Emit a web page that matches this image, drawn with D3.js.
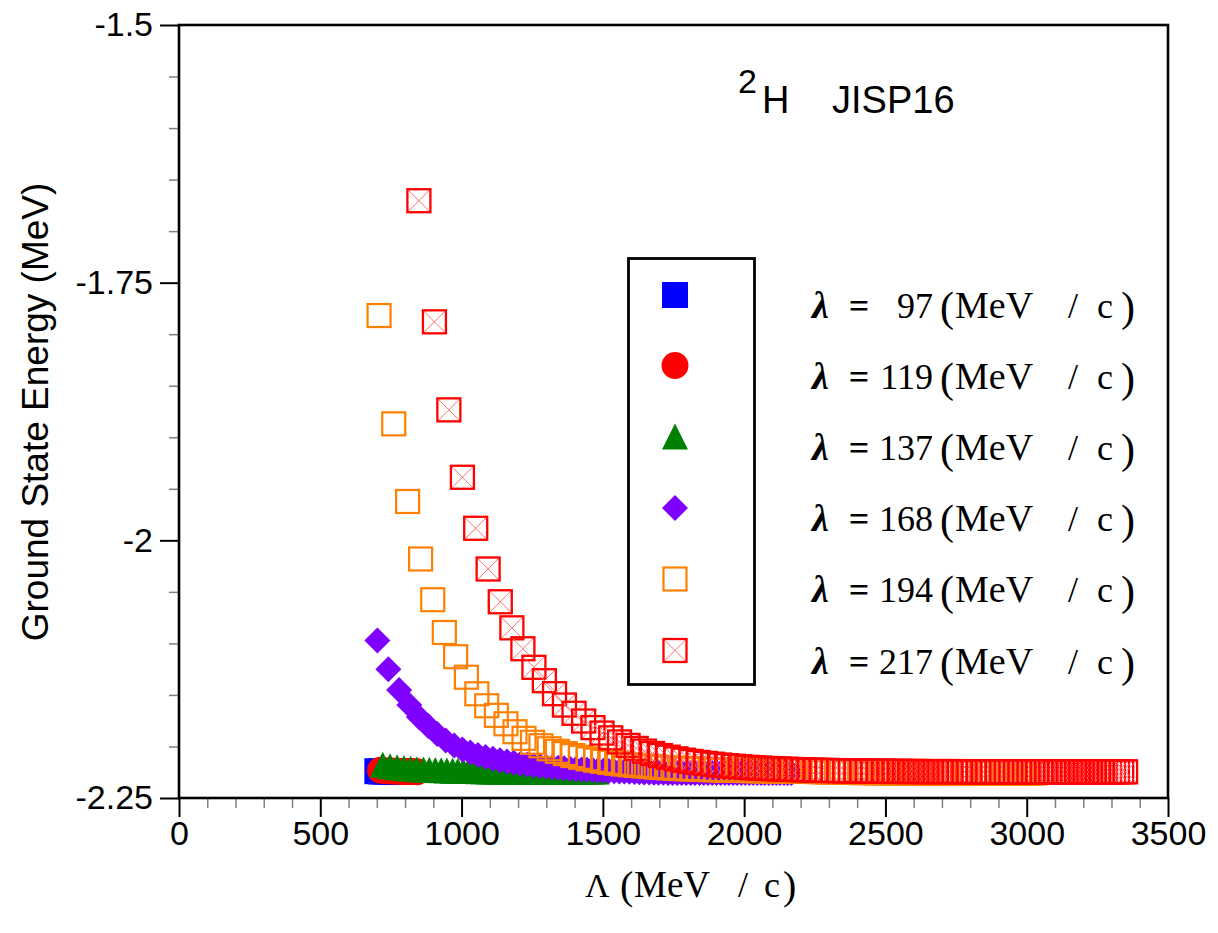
<!DOCTYPE html>
<html><head><meta charset="utf-8">
<script src="https://cdn.jsdelivr.net/npm/d3@7"></script>
<style>body{margin:0;background:#fff}svg{display:block}</style>
</head><body>
<svg id="c" width="1218" height="933"></svg>
<script>
// ---- data ----
const lambdaValues = ["97", "119", "137", "168", "194", "217"];
const xTicks = [0, 500, 1000, 1500, 2000, 2500, 3000, 3500];
const yTicks = [-1.5, -1.75, -2, -2.25];
const yTickLabels = ["-1.5", "-1.75", "-2", "-2.25"];

const cut97 = [702,715,728,741,754,767,779,791,803];
const en97 = [-2.2240,-2.2242,-2.2243,-2.2244,-2.2245,-2.2245,-2.2246,-2.2246,-2.2246];

const cut119 = [713,733,752,771,789,807,825,842];
const en119 = [-2.2230,-2.2235,-2.2238,-2.2240,-2.2242,-2.2243,-2.2244,-2.2245];

const cut137 = [721,747,772,796,820,842,865,886,907,928,
948,968,987,1006,1025,1043,1061,1079,1096,1114,
1130,1147,1163,1180,1195,1211,1227,1242,1257,1272,
1287,1301,1316,1330,1344,1358,1372,1386,1399,1413,
1426,1439,1452,1465,1478];
const en137 = [-2.2178,-2.2192,-2.2201,-2.2209,-2.2215,-2.2220,-2.2224,-2.2227,-2.2229,-2.2231,
-2.2233,-2.2235,-2.2236,-2.2237,-2.2238,-2.2239,-2.2240,-2.2241,-2.2242,-2.2242,
-2.2243,-2.2243,-2.2243,-2.2243,-2.2243,-2.2243,-2.2243,-2.2243,-2.2243,-2.2243,
-2.2244,-2.2244,-2.2244,-2.2244,-2.2244,-2.2244,-2.2244,-2.2244,-2.2244,-2.2244,
-2.2244,-2.2244,-2.2244,-2.2244,-2.2244];

const cut168 = [702,741,779,815,849,882,914,944,974,1003,
1031,1058,1085,1111,1136,1161,1185,1209,1232,1255,
1277,1299,1321,1342,1363,1384,1404,1425,1444,1464,
1483,1502,1521,1540,1558,1576,1594,1612,1629,1646,
1664,1681,1697,1714,1731,1747,1763,1779,1795,1811,
1826,1842,1857,1872,1887,1902,1917,1932,1946,1961,
1975,1990,2004,2018,2032,2046,2060,2073,2087,2101,
2114,2127,2141,2154,2167];
const en168 = [-2.0972,-2.1251,-2.1452,-2.1598,-2.1714,-2.1801,-2.1879,-2.1942,-2.1991,-2.2029,
-2.2059,-2.2083,-2.2102,-2.2120,-2.2134,-2.2147,-2.2158,-2.2167,-2.2176,-2.2184,
-2.2190,-2.2196,-2.2202,-2.2207,-2.2212,-2.2216,-2.2220,-2.2223,-2.2226,-2.2229,
-2.2232,-2.2235,-2.2238,-2.2240,-2.2242,-2.2244,-2.2246,-2.2248,-2.2250,-2.2252,
-2.2253,-2.2254,-2.2255,-2.2256,-2.2257,-2.2258,-2.2258,-2.2258,-2.2258,-2.2258,
-2.2258,-2.2258,-2.2258,-2.2258,-2.2258,-2.2258,-2.2258,-2.2258,-2.2258,-2.2258,
-2.2258,-2.2258,-2.2258,-2.2258,-2.2258,-2.2258,-2.2258,-2.2258,-2.2258,-2.2258,
-2.2258,-2.2258,-2.2258,-2.2258,-2.2258];

const cut194 = [708,760,809,855,898,939,979,1017,1054,1089,
1123,1157,1189,1221,1251,1281,1310,1339,1367,1394,
1421,1448,1474,1499,1524,1549,1573,1597,1620,1644,
1667,1689,1711,1733,1755,1776,1798,1819,1839,1860,
1880,1900,1920,1939,1959,1978,1997,2016,2034,2053,
2071,2089,2107,2125,2143,2161,2178,2195,2212,2229,
2246,2263,2280,2296,2313,2329,2345,2361,2377,2393,
2409,2424,2440,2455,2471,2486,2501,2516,2531,2546,
2561,2575,2590,2605,2619,2633,2648,2662,2676,2690,
2704,2718,2732,2746,2759,2773,2787,2800,2814,2827,
2840,2854,2867,2880,2893,2906,2919,2932,2945,2958,
2970,2983,2996,3008,3021,3033];
const en194 = [-1.7819,-1.8870,-1.9623,-2.0181,-2.0576,-2.0894,-2.1129,-2.1328,-2.1489,-2.1605,
-2.1698,-2.1780,-2.1857,-2.1921,-2.1959,-2.1993,-2.2022,-2.2047,-2.2069,-2.2088,
-2.2105,-2.2120,-2.2133,-2.2144,-2.2154,-2.2163,-2.2171,-2.2178,-2.2184,-2.2190,
-2.2195,-2.2200,-2.2204,-2.2208,-2.2211,-2.2214,-2.2217,-2.2219,-2.2221,-2.2223,
-2.2225,-2.2227,-2.2228,-2.2230,-2.2231,-2.2232,-2.2233,-2.2234,-2.2235,-2.2236,
-2.2237,-2.2237,-2.2238,-2.2239,-2.2239,-2.2240,-2.2240,-2.2241,-2.2241,-2.2242,
-2.2243,-2.2244,-2.2245,-2.2246,-2.2247,-2.2248,-2.2249,-2.2250,-2.2251,-2.2252,
-2.2253,-2.2253,-2.2254,-2.2254,-2.2255,-2.2255,-2.2255,-2.2256,-2.2256,-2.2256,
-2.2256,-2.2256,-2.2256,-2.2256,-2.2256,-2.2256,-2.2256,-2.2256,-2.2256,-2.2256,
-2.2256,-2.2256,-2.2256,-2.2256,-2.2256,-2.2256,-2.2256,-2.2256,-2.2256,-2.2256,
-2.2256,-2.2256,-2.2256,-2.2256,-2.2256,-2.2256,-2.2256,-2.2256,-2.2256,-2.2256,
-2.2256,-2.2256,-2.2256,-2.2256,-2.2256,-2.2256];

const cut217 = [849,904,955,1003,1050,1094,1137,1178,1217,1256,
1293,1329,1364,1398,1432,1465,1497,1528,1559,1589,
1618,1647,1676,1704,1731,1759,1785,1812,1837,1863,
1888,1913,1938,1962,1986,2010,2033,2056,2079,2102,
2124,2146,2168,2190,2211,2233,2254,2275,2295,2316,
2336,2356,2376,2396,2416,2435,2454,2474,2493,2512,
2530,2549,2567,2586,2604,2622,2640,2658,2676,2693,
2711,2728,2745,2762,2779,2796,2813,2830,2847,2863,
2880,2896,2912,2928,2944,2960,2976,2992,3008,3024,
3039,3055,3070,3085,3101,3116,3131,3146,3161,3176,
3191,3206,3220,3235,3250,3264,3278,3293,3307,3321,
3336,3350];
const en217 = [-1.6705,-1.7880,-1.8734,-1.9388,-1.9883,-2.0278,-2.0596,-2.0849,-2.1052,-2.1232,
-2.1362,-2.1488,-2.1598,-2.1678,-2.1753,-2.1817,-2.1870,-2.1916,-2.1956,-2.1990,
-2.2019,-2.2045,-2.2068,-2.2088,-2.2104,-2.2120,-2.2133,-2.2145,-2.2155,-2.2164,
-2.2172,-2.2180,-2.2186,-2.2192,-2.2197,-2.2202,-2.2206,-2.2210,-2.2213,-2.2216,
-2.2219,-2.2221,-2.2223,-2.2225,-2.2227,-2.2229,-2.2230,-2.2232,-2.2233,-2.2234,
-2.2235,-2.2236,-2.2237,-2.2238,-2.2238,-2.2239,-2.2240,-2.2240,-2.2241,-2.2241,
-2.2242,-2.2242,-2.2242,-2.2243,-2.2243,-2.2243,-2.2244,-2.2244,-2.2244,-2.2244,
-2.2244,-2.2244,-2.2244,-2.2244,-2.2245,-2.2245,-2.2245,-2.2245,-2.2245,-2.2245,
-2.2245,-2.2245,-2.2245,-2.2245,-2.2245,-2.2245,-2.2245,-2.2245,-2.2245,-2.2245,
-2.2245,-2.2245,-2.2245,-2.2245,-2.2246,-2.2246,-2.2246,-2.2246,-2.2246,-2.2246,
-2.2246,-2.2246,-2.2246,-2.2246,-2.2246,-2.2246,-2.2246,-2.2246,-2.2246,-2.2246,
-2.2246,-2.2246];

// ---- chart ----
const svg = d3.select("#c");
svg.append("rect").attr("width",1218).attr("height",933).attr("fill","#fff");
const X0 = 179, X1 = 1168, Y0 = 25, Y1 = 798;
const x = d3.scaleLinear().domain([0, 3500]).range([X0, X1]);
const y = d3.scaleLinear().domain([-2.25, -1.5]).range([Y1, Y0]);

const series = [
  {lam: lambdaValues[0], xs: cut97,  es: en97,  kind: "fsquare",  color: "#0000ff"},
  {lam: lambdaValues[1], xs: cut119, es: en119, kind: "circle",   color: "#ff0000"},
  {lam: lambdaValues[2], xs: cut137, es: en137, kind: "triangle", color: "#008000"},
  {lam: lambdaValues[3], xs: cut168, es: en168, kind: "diamond",  color: "#7f00ff"},
  {lam: lambdaValues[4], xs: cut194, es: en194, kind: "osquare",  color: "#ff8000"},
  {lam: lambdaValues[5], xs: cut217, es: en217, kind: "xsquare",  color: "#ff0000"}
];

function drawMarker(g, kind, color) {
  if (kind === "fsquare") {
    g.append("rect").attr("x",-13).attr("y",-13).attr("width",26).attr("height",26).attr("fill",color);
  } else if (kind === "circle") {
    g.append("circle").attr("r",13.5).attr("fill",color);
  } else if (kind === "triangle") {
    g.append("path").attr("d","M0,-13L13,13L-13,13Z").attr("fill",color);
  } else if (kind === "diamond") {
    g.append("path").attr("d","M0,-13L13,0L0,13L-13,0Z").attr("fill",color);
  } else if (kind === "osquare") {
    g.append("rect").attr("x",-11.5).attr("y",-11.5).attr("width",23).attr("height",23)
      .attr("fill","none").attr("stroke",color).attr("stroke-width",2.2);
  } else if (kind === "xsquare") {
    g.append("path").attr("d","M-11,-11L11,11M11,-11L-11,11").attr("stroke","#ff7070").attr("stroke-width",1).attr("fill","none");
    g.append("rect").attr("x",-11.5).attr("y",-11.5).attr("width",23).attr("height",23)
      .attr("fill","none").attr("stroke",color).attr("stroke-width",2.3);
  }
}

svg.append("clipPath").attr("id","clip").append("rect")
  .attr("x",X0).attr("y",Y0).attr("width",X1-X0).attr("height",Y1-Y0);
const plot = svg.append("g").attr("clip-path","url(#clip)");
series.forEach(s => {
  const n = Math.min(s.xs.length, s.es.length);
  const gs = plot.append("g");
  d3.range(n).forEach(i => {
    const g = gs.append("g").attr("transform", `translate(${x(s.xs[i])},${y(s.es[i])})`);
    drawMarker(g, s.kind, s.color);
  });
});

// axes
const minorX = d3.range(0, 3501, 100).filter(v => v % 500 !== 0);
const minorY = d3.range(0, 16).map(i => -1.5 - i*0.05).filter((v,i) => i % 5 !== 0);
const sans = "Liberation Sans, Arial, sans-serif";
const serif = "Liberation Serif, Times New Roman, serif";
const xMinor = svg.append("g").attr("transform",`translate(0,${Y1})`)
  .call(d3.axisBottom(x).tickValues(minorX).tickSize(10).tickFormat(""));
xMinor.selectAll("line").attr("stroke","#808080").attr("stroke-width",1.5);
const xMajor = svg.append("g").attr("transform",`translate(0,${Y1})`)
  .call(d3.axisBottom(x).tickValues(xTicks).tickSize(19).tickPadding(4).tickFormat(d3.format("d")));
xMajor.selectAll("line").attr("stroke","#000").attr("stroke-width",2);
xMajor.selectAll("text").attr("font-family",sans).attr("font-size",34).attr("fill","#000");
const yMinor = svg.append("g").attr("transform",`translate(${X0},0)`)
  .call(d3.axisLeft(y).tickValues(minorY).tickSize(10).tickFormat(""));
yMinor.selectAll("line").attr("stroke","#808080").attr("stroke-width",1.5);
const yMajor = svg.append("g").attr("transform",`translate(${X0},0)`)
  .call(d3.axisLeft(y).tickValues(yTicks).tickSize(19).tickPadding(7).tickFormat((d,i) => yTickLabels[i]));
yMajor.selectAll("line").attr("stroke","#000").attr("stroke-width",2);
yMajor.selectAll("text").attr("font-family",sans).attr("font-size",34).attr("fill","#000");
svg.selectAll(".domain").remove();

svg.append("rect").attr("x",X0).attr("y",Y0).attr("width",X1-X0).attr("height",Y1-Y0)
  .attr("fill","none").attr("stroke","#000").attr("stroke-width",2.6);

// axis titles
svg.append("text").attr("transform","translate(48,412) rotate(-90)").attr("text-anchor","middle")
  .attr("font-family",sans).attr("font-size",37).text("Ground State Energy (MeV)");
const xlY = 897;
svg.append("text").attr("x",585).attr("y",xlY).attr("font-family",serif).attr("font-size",34).text("Λ");
svg.append("text").attr("x",620).attr("y",xlY+2).attr("font-family",serif).attr("font-size",40).text("(");
svg.append("text").attr("x",634).attr("y",xlY).attr("font-family",serif).attr("font-size",37).text("MeV");
svg.append("text").attr("x",738).attr("y",xlY).attr("font-family",serif).attr("font-size",36).text("/");
svg.append("text").attr("x",764).attr("y",xlY).attr("font-family",serif).attr("font-size",36).text("c");
svg.append("text").attr("x",783).attr("y",xlY+2).attr("font-family",serif).attr("font-size",40).text(")");

// title
svg.append("text").attr("x",738).attr("y",93).attr("font-family",sans).attr("font-size",34).text("2");
svg.append("text").attr("x",762).attr("y",113).attr("font-family",sans).attr("font-size",38).text("H");
svg.append("text").attr("x",832).attr("y",113).attr("font-family",sans).attr("font-size",38).text("JISP16");

// legend
svg.append("rect").attr("x",628.5).attr("y",258.5).attr("width",126).attr("height",426)
  .attr("fill","#fff").attr("stroke","#000").attr("stroke-width",2.8);
const legY = [295, 365.5, 436.5, 508, 579, 650.5];
series.forEach((s, i) => {
  const g = svg.append("g").attr("transform",`translate(675,${legY[i]})`);
  drawMarker(g, s.kind, s.color);
  const base = legY[i] + 23;
  svg.append("text").attr("x",812).attr("y",base).attr("font-family",serif).attr("font-size",38)
    .attr("font-style","italic").attr("font-weight","bold").text("λ");
  svg.append("text").attr("x",859).attr("y",base).attr("text-anchor","middle").attr("font-family",serif)
    .attr("font-size",36).attr("font-weight","bold").text("=");
  svg.append("text").attr("x",933).attr("y",base).attr("text-anchor","end").attr("font-family",serif)
    .attr("font-size",36).text(s.lam);
  svg.append("text").attr("x",940).attr("y",base+3).attr("font-family",serif).attr("font-size",42).text("(");
  svg.append("text").attr("x",955).attr("y",base).attr("font-family",serif).attr("font-size",38).text("MeV");
  svg.append("text").attr("x",1068).attr("y",base).attr("font-family",serif).attr("font-size",36).text("/");
  svg.append("text").attr("x",1097).attr("y",base).attr("font-family",serif).attr("font-size",36).text("c");
  svg.append("text").attr("x",1121).attr("y",base+3).attr("font-family",serif).attr("font-size",42).text(")");
});
</script>
</body></html>
